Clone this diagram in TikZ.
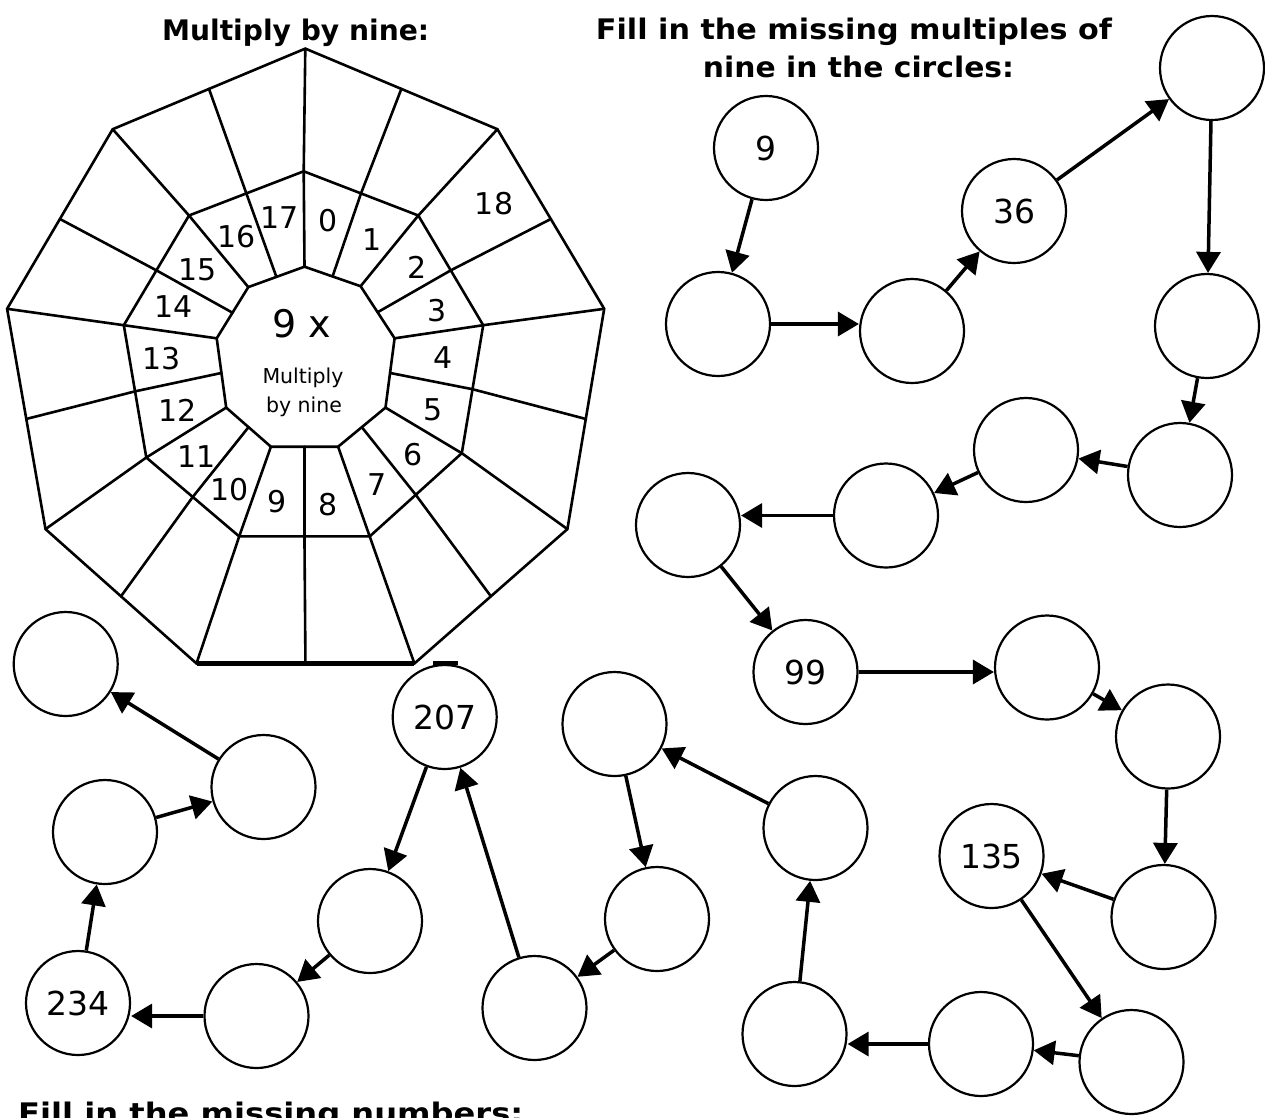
\documentclass[tikz,border=0pt]{standalone}
\usepackage{fontspec}
\setmainfont{DejaVu Sans}
\usepackage{graphicx}
\usetikzlibrary{arrows.meta,calc}
\begin{document}
\begin{tikzpicture}[x=1pt,y=-1pt,
  ring/.style={line width=2.6pt, line join=round, line cap=round},
  bub/.style={circle, draw, line width=2.2pt, minimum size=104pt, inner sep=0pt, font=\fontsize{33}{33}\selectfont},
  arr/.style={line width=3.5pt, -{Triangle[length=21pt,width=24pt]}},
  cell/.style={font=\fontsize{30}{30}\selectfont, inner sep=0pt},
  ttl/.style={inner sep=0pt, font=\bfseries},
]
\useasboundingbox (0,0) rectangle (1265,1117);

% ---------- nonagon wheel ----------
\foreach \n/\x/\y in {0/305.3/48.6, 1/497.4/129.2, 2/604.2/308.8, 3/567.4/529.1, 4/414.4/663.5, 5/196.5/663.5, 6/45.5/529.1, 7/7.1/308.8, 8/112.7/129.2}
  \coordinate (o\n) at (\x,\y);
\foreach \n/\x/\y in {0/303.7/171.3, 1/418.3/215.5, 2/483.2/325.2, 3/461.8/453.2, 4/369.7/536.4, 5/239.2/536.4, 6/146.3/457.5, 7/123.8/325.2, 8/189.0/215.5}
  \coordinate (m\n) at (\x,\y);
\foreach \n/\x/\y in {0/304.5/266.7, 1/360.6/286.2, 2/394.6/338.3, 3/385.5/407.6, 4/338.1/446.7, 5/270.9/446.7, 6/226.2/407.6, 7/216.7/338.3, 8/248.3/287.1}
  \coordinate (i\n) at (\x,\y);
\foreach \k in {0,...,8}{
  \pgfmathtruncatemacro{\kk}{mod(\k+1,9)}
  \coordinate (om\k) at ($(o\k)!0.5!(o\kk)$);
  \coordinate (mm\k) at ($(m\k)!0.5!(m\kk)$);
  \coordinate (im\k) at ($(i\k)!0.5!(i\kk)$);
}
\draw[ring] (o0) -- (o1) -- (o2) -- (o3) -- (o4) -- (o5) -- (o6) -- (o7) -- (o8) -- cycle;
\draw[ring] (m0) -- (m1) -- (m2) -- (m3) -- (m4) -- (m5) -- (m6) -- (m7) -- (m8) -- cycle;
\draw[ring] (i0) -- (i1) -- (i2) -- (i3) -- (i4) -- (i5) -- (i6) -- (i7) -- (i8) -- cycle;
\draw[line width=4.5pt] (o4) -- (o5);
\foreach \k in {0,...,8}{
  \draw[ring] (o\k) -- (m\k) -- (i\k);
  \draw[ring] (om\k) -- (mm\k) -- (im\k);
}

% centre text
\node[anchor=base, inner sep=0pt, font=\fontsize{38}{38}\selectfont] (nx) at (302,337) {9 x};
\node[anchor=base, inner sep=0pt, font=\fontsize{20.5}{20.5}\selectfont] (nm1) at (303,383) {Multiply};
\node[anchor=base, inner sep=0pt, font=\fontsize{20.5}{20.5}\selectfont] (nm2) at (304,412) {by nine};

% ring numbers
\foreach \t/\x/\y in {0/328/221, 1/372/240, 2/417/267, 3/437/311, 4/443/358, 5/433/410, 6/413/455, 7/377/485, 8/328/505, 9/277/502, 10/230/490, 11/197/457, 12/178/410, 13/162/359, 14/174/307, 15/198/270, 16/237/237, 17/280/218, 18/494/204}
  \node[cell] (r\t) at (\x,\y) {\t};

% ---------- titles ----------
\node[ttl, anchor=base] (title1) at (295.6,40) {\resizebox{267pt}{21.5pt}{\bfseries Multiply by nine:}};
\node[ttl, anchor=base] (title2) at (854,39) {\resizebox{516pt}{21.5pt}{\bfseries Fill in the missing multiples of}};
\node[ttl, anchor=base] (title3) at (858.5,77) {\resizebox{311pt}{21.5pt}{\bfseries nine in the circles:}};
\node[ttl, anchor=base west] (title4) at (18,1123) {\resizebox{505pt}{21.5pt}{\bfseries Fill in the missing numbers:}};

% ---------- circles ----------
\node[bub] (c1) at (766,148) {9};
\node[bub] (c2) at (718,324) {};
\node[bub] (c3) at (912,331) {};
\node[bub] (c4) at (1014,211) {36};
\node[bub] (c5) at (1212,68) {};
\node[bub] (c6) at (1207,326) {};
\node[bub] (c7) at (1180,475) {};
\node[bub] (c8) at (1026,450) {};
\node[bub] (c9) at (886,515.5) {};
\node[bub] (c10) at (688,525) {};
\node[bub] (c11) at (805.5,672) {99};
\node[bub] (c12) at (1047,667.5) {};
\node[bub] (c13) at (1168,736.5) {};
\node[bub] (c14) at (1163.5,917) {};
\node[bub] (c15) at (991.5,856) {135};
\node[bub] (c16) at (1131.5,1062) {};
\node[bub] (c17) at (981,1044) {};
\node[bub] (c18) at (794.5,1034) {};
\node[bub] (c19) at (815.5,828) {};
\node[bub] (c20) at (614.5,724) {};
\node[bub] (c21) at (657,919) {};
\node[bub] (c22) at (534.5,1008) {};
\node[bub] (c23) at (444.7,717) {207};
\node[bub] (c24) at (370,921) {};
\node[bub] (c25) at (256.5,1016) {};
\node[bub] (c26) at (78,1003) {234};
\node[bub] (c27) at (105,832) {};
\node[bub] (c28) at (263.5,787) {};
\node[bub] (c29) at (65.7,664) {};

\draw[line width=4pt] ($(c23.north)+(-12,-1)$) -- ++(25,0);

% ---------- arrows ----------
\draw[arr] (c1) -- (c2);
\draw[arr] (c2.east) -- (c2.east -| c3.west);
\draw[arr] (c3) -- (c4);
\draw[arr] (c4) -- (c5);
\draw[arr] (c5) -- (c6);
\draw[arr] (c6) -- (c7);
\draw[arr] (c7) -- (c8);
\draw[arr] (c8) -- (c9);
\draw[arr] (c9.west) -- (c9.west -| c10.east);
\draw[arr] (c10) -- (c11);
\draw[arr] (c11.east) -- (c11.east -| c12.west);
\draw[arr] (c12) -- (c13);
\draw[arr] (c13) -- (c14);
\draw[arr] (c14) -- (c15);
\draw[arr] (c15) -- (c16);
\draw[arr] (c16) -- (c17);
\draw[arr] (c17.west) -- (c17.west -| c18.east);
\draw[arr] (c18) -- (c19);
\draw[arr] (c19) -- (c20);
\draw[arr] (c20) -- (c21);
\draw[arr] (c21) -- (c22);
\draw[arr] (c22) -- (c23);
\draw[arr] (c23) -- (c24);
\draw[arr] (c24) -- (c25);
\draw[arr] (c25.west) -- (c25.west -| c26.east);
\draw[arr] (c26) -- (c27);
\draw[arr] (c27) -- (c28);
\draw[arr] (c28) -- (c29);
\end{tikzpicture}
\end{document}
